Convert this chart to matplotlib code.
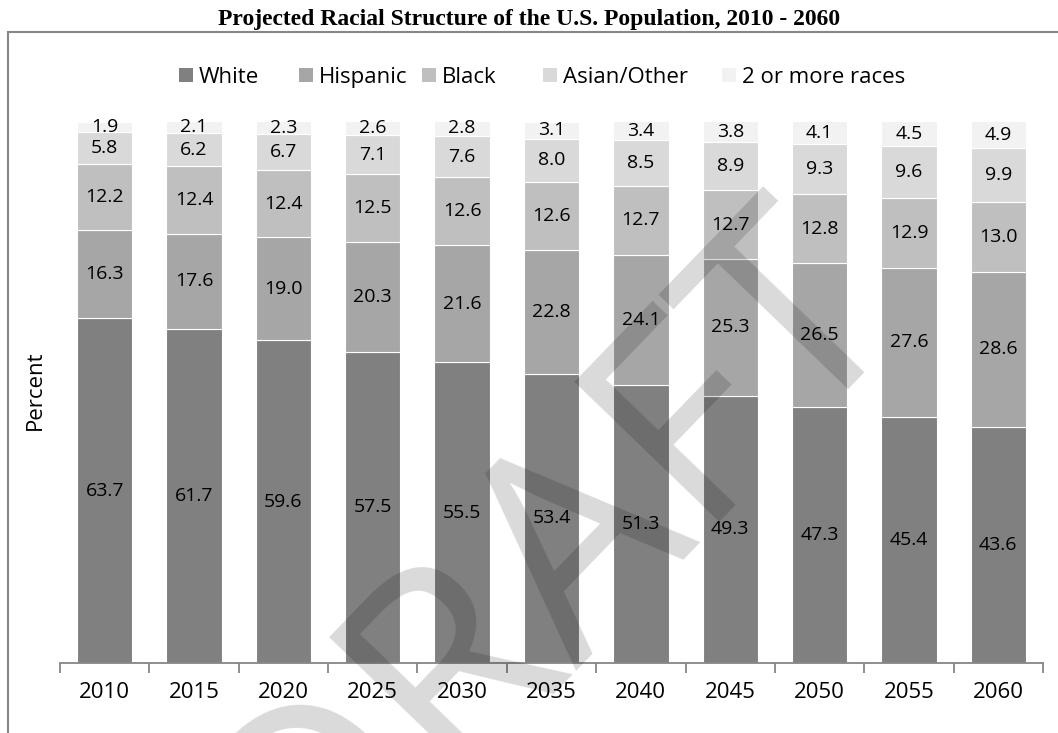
import matplotlib
matplotlib.use("Agg")
import matplotlib.pyplot as plt
import numpy as np
from matplotlib.patches import Rectangle

years = ["2010", "2015", "2020", "2025", "2030", "2035", "2040", "2045", "2050", "2055", "2060"]
white = [63.7, 61.7, 59.6, 57.5, 55.5, 53.4, 51.3, 49.3, 47.3, 45.4, 43.6]
hispanic = [16.3, 17.6, 19.0, 20.3, 21.6, 22.8, 24.1, 25.3, 26.5, 27.6, 28.6]
black = [12.2, 12.4, 12.4, 12.5, 12.6, 12.6, 12.7, 12.7, 12.8, 12.9, 13.0]
asian_other = [5.8, 6.2, 6.7, 7.1, 7.6, 8.0, 8.5, 8.9, 9.3, 9.6, 9.9]
two_plus = [1.9, 2.1, 2.3, 2.6, 2.8, 3.1, 3.4, 3.8, 4.1, 4.5, 4.9]

series_names = ["White", "Hispanic", "Black", "Asian/Other", "2 or more races"]
series_colors = ["#808080", "#a6a6a6", "#bfbfbf", "#d9d9d9", "#f2f2f2"]

plt.rcParams["font.family"] = ["Open Sans", "DejaVu Sans"]

W, H = 1058, 733
fig = plt.figure(figsize=(W / 100, H / 100), dpi=100)


def fx(px):
    return px / W


def fy(py):
    return 1 - py / H


# outer chart frame (runs off the right and bottom edges)
fig.patches.append(Rectangle((fx(8), -0.2), 1.2, fy(32) + 0.2,
                             transform=fig.transFigure, fill=False,
                             edgecolor="#878787", linewidth=1.5, zorder=0))

fig.text(0.5, fy(25), "Projected Racial Structure of the U.S. Population, 2010 - 2060",
         ha="center", va="baseline", fontsize=17, fontweight="bold",
         family="Liberation Serif")

ax = fig.add_axes([fx(60), fy(663), fx(1043) - fx(60), fy(121.4) - fy(663)])

x = np.arange(len(years))
bottom = np.zeros(len(years))
data = [white, hispanic, black, asian_other, two_plus]
for vals, name, col in zip(data, series_names, series_colors):
    vals = np.array(vals)
    ax.bar(x, vals, width=0.62, bottom=bottom, color=col,
           edgecolor="white", linewidth=0.8, label=name)
    for xi, b, v in zip(x, bottom, vals):
        ax.text(xi, b + v / 2, f"{v:.1f}", ha="center", va="center",
                fontsize=14, color="black")
    bottom = bottom + vals

ax.set_xlim(-0.5, len(years) - 0.5)
ax.set_ylim(0, 100)
ax.set_yticks([])
for s in ["top", "right", "left"]:
    ax.spines[s].set_visible(False)
ax.spines["bottom"].set_color("#868686")
ax.spines["bottom"].set_linewidth(1.3)

ax.set_xticks(x)
ax.set_xticklabels(years, fontsize=16)
ax.tick_params(axis="x", which="major", length=0, pad=14)
ax.set_xticks(np.arange(-0.5, len(years)), minor=True)
ax.tick_params(axis="x", which="minor", length=7, width=1.3, color="#868686")

fig.text(fx(35), fy(390), "Percent", rotation=90, ha="center", va="center",
         fontsize=16)

# legend entries laid out in a single row
legend_left = [179, 299, 422, 543, 722]
sq = 14
for lx, name, col in zip(legend_left, series_names, series_colors):
    fig.patches.append(Rectangle((fx(lx), fy(75 + sq / 2)), sq / W, sq / H,
                                 transform=fig.transFigure, facecolor=col,
                                 edgecolor="none"))
    fig.text(fx(lx + sq + 6), fy(75), name, ha="left", va="center_baseline",
             fontsize=16)

# watermark
fig.text(fx(604), fy(614), "DRAFT", rotation=46, ha="center", va="baseline",
         rotation_mode="anchor", fontsize=204, color="black", alpha=0.15,
         zorder=10)

fig.savefig("out.png", dpi=100)
